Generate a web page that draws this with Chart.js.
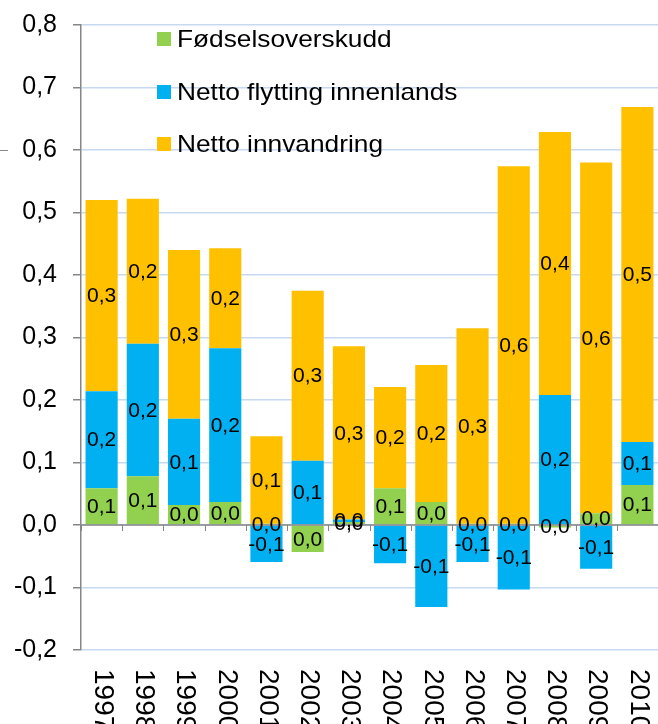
<!DOCTYPE html>
<html>
<head>
<meta charset="utf-8">
<script src="https://cdn.jsdelivr.net/npm/chart.js@4.4.1/dist/chart.umd.min.js"></script>
<style>
  html, body { margin: 0; padding: 0; background: #ffffff; }
  #wrap { width: 658px; height: 724px; position: relative; }
</style>
</head>
<body>
<div id="wrap"><canvas id="c"></canvas></div>
<script>
const years = ['1997','1998','1999','2000','2001','2002','2003','2004','2005','2006','2007','2008','2009','2010'];
const fodselsoverskudd = [0.059, 0.078, 0.032, 0.037, 0.002, -0.043, 0.005, 0.059, 0.037, 0.002, 0.002, -0.004, 0.019, 0.064];
const nettoFlytting = [0.155, 0.212, 0.138, 0.246, -0.059, 0.103, 0.004, -0.061, -0.131, -0.059, -0.103, 0.208, -0.070, 0.069];
const nettoInnvandring = [0.306, 0.232, 0.270, 0.160, 0.140, 0.272, 0.277, 0.162, 0.219, 0.313, 0.572, 0.421, 0.561, 0.536];
const seriesNames = ['Fødselsoverskudd', 'Netto flytting innenlands', 'Netto innvandring'];
const seriesColors = ['#92d050', '#00b0f0', '#ffc000'];

const FONT = "'Liberation Sans', Arial, sans-serif";

function fmt(v) {
  let s = v.toFixed(1);
  if (s === '-0.0') s = '0.0';
  return s.replace('.', ',');
}

const overlayPlugin = {
  id: 'overlay',
  afterDatasetsDraw(chart) {
    const ctx = chart.ctx;
    const x = chart.scales.x, y = chart.scales.y;
    const area = chart.chartArea;
    const y0 = y.getPixelForValue(0);
    ctx.save();
    // zero line
    ctx.strokeStyle = '#868686';
    ctx.lineWidth = 1.5;
    ctx.beginPath();
    ctx.moveTo(area.left, y0);
    ctx.lineTo(area.right, y0);
    ctx.stroke();
    // category tick marks below zero line
    ctx.lineWidth = 1;
    const n = years.length;
    const step = (area.right - area.left) / n;
    for (let i = 0; i <= n; i++) {
      const px = Math.round(area.left + i * step) + 0.5;
      ctx.beginPath();
      ctx.moveTo(px, y0);
      ctx.lineTo(px, y0 + 6);
      ctx.stroke();
    }
    // stray dash at left
    const y6 = Math.round(y.getPixelForValue(0.6)) + 0.5;
    ctx.beginPath();
    ctx.moveTo(0, y6);
    ctx.lineTo(8, y6);
    ctx.stroke();

    // data labels
    ctx.fillStyle = '#000000';
    ctx.font = '21px ' + FONT;
    ctx.textAlign = 'center';
    ctx.textBaseline = 'middle';
    chart.data.datasets.forEach((ds, di) => {
      const meta = chart.getDatasetMeta(di);
      meta.data.forEach((el, i) => {
        const cy = (el.y + el.base) / 2;
        ctx.fillText(fmt(ds.data[i]), el.x, cy + 1);
      });
    });

    // x labels, rotated clockwise
    ctx.font = '28px ' + FONT;
    ctx.textAlign = 'left';
    ctx.textBaseline = 'middle';
    years.forEach((lab, i) => {
      const px = x.getPixelForValue(i);
      ctx.save();
      ctx.translate(px + 1, area.bottom + 19);
      ctx.rotate(Math.PI / 2);
      ctx.fillText(lab, 0, 0);
      ctx.restore();
    });

    // legend
    ctx.font = '24px ' + FONT;
    ctx.textAlign = 'left';
    ctx.textBaseline = 'middle';
    const legX = 157, legY = [39, 92, 144];
    seriesNames.forEach((name, k) => {
      ctx.fillStyle = seriesColors[k];
      ctx.fillRect(legX, legY[k] - 7, 14, 14);
      ctx.fillStyle = '#000000';
      ctx.save();
      ctx.translate(legX + 20, legY[k] + 1);
      ctx.scale(1.095, 1);
      ctx.fillText(name, 0, 0);
      ctx.restore();
    });
    ctx.restore();
  }
};

new Chart(document.getElementById('c'), {
  type: 'bar',
  data: {
    labels: years,
    datasets: [
      { label: seriesNames[0], data: fodselsoverskudd, backgroundColor: seriesColors[0] },
      { label: seriesNames[1], data: nettoFlytting, backgroundColor: seriesColors[1] },
      { label: seriesNames[2], data: nettoInnvandring, backgroundColor: seriesColors[2] }
    ]
  },
  options: {
    responsive: true,
    maintainAspectRatio: false,
    animation: false,
    layout: { padding: { top: 25, left: 0, right: 0, bottom: 0 } },
    datasets: { bar: { categoryPercentage: 1.0, barPercentage: 0.78 } },
    plugins: { legend: { display: false }, tooltip: { enabled: false } },
    scales: {
      x: {
        stacked: true,
        grid: { display: false },
        border: { display: false },
        ticks: { display: false },
        afterFit(scale) { scale.height = 74; scale.paddingLeft = 0; scale.paddingRight = 0; }
      },
      y: {
        stacked: true,
        min: -0.2,
        max: 0.8,
        ticks: {
          stepSize: 0.1,
          padding: 16,
          color: '#000000',
          font: { family: FONT, size: 25 },
          callback: (v) => fmt(v)
        },
        grid: { color: '#c6d9f1', lineWidth: 1.5, tickLength: 8, tickColor: '#868686', tickWidth: 1.5 },
        border: { display: true, color: '#868686', width: 1.5 },
        afterFit(scale) { scale.width = 81; scale.paddingTop = 0; scale.paddingBottom = 0; }
      }
    }
  },
  plugins: [overlayPlugin]
});
</script>
</body>
</html>
